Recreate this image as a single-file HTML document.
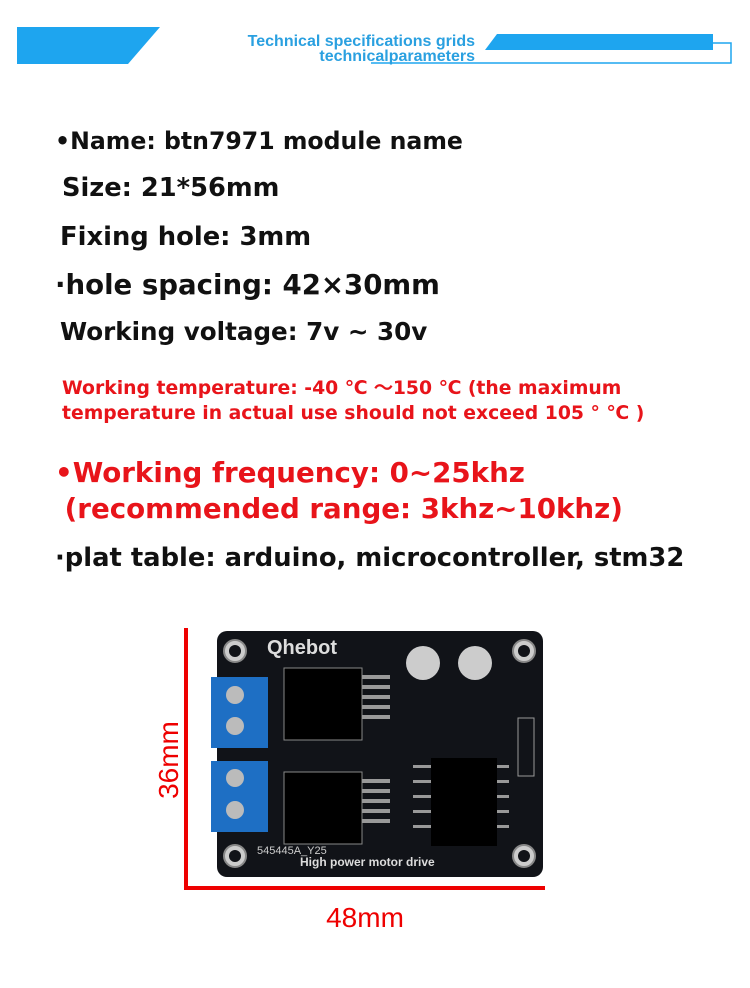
<!DOCTYPE html>
<html><head><meta charset="utf-8"><style>
body{margin:0;width:750px;height:988px;background:#fff;position:relative;overflow:hidden;font-family:"DejaVu Sans","Liberation Sans",sans-serif}
.t{position:absolute;white-space:nowrap;font-weight:bold;color:#111}
.a{position:absolute}
</style></head><body>
<svg class="a" style="left:0;top:0" width="750" height="80">
<polygon points="17,27 160,27 128,64 17,64" fill="#1ea5ef"/>
<polygon points="497,34 713,34 713,50 485,50" fill="#1ea5ef"/>
<polyline points="371,63 731,63 731,43 713,43" fill="none" stroke="#1ea5ef" stroke-width="1.5"/>
<text x="475" y="46" text-anchor="end" font-family="Liberation Sans" font-weight="bold" font-size="16" fill="#2aa0e0">Technical specifications grids</text>
<text x="475" y="61" text-anchor="end" font-family="Liberation Sans" font-weight="bold" font-size="16" fill="#2aa0e0">technicalparameters</text>
</svg>
<div class="t" style="left:55px;top:127px;font-size:23.6px">•Name: btn7971 module name</div>
<div class="t" style="left:62px;top:173px;font-size:25.7px">Size: 21*56mm</div>
<div class="t" style="left:60px;top:222px;font-size:25.8px">Fixing hole: 3mm</div>
<div class="t" style="left:55px;top:268px;font-size:27.6px">·hole spacing: 42×30mm</div>
<div class="t" style="left:60px;top:317px;font-size:24.6px">Working voltage: 7v ~ 30v</div>
<div class="t" style="left:62px;top:376px;font-size:18.8px;color:#e8141a;line-height:25px">Working temperature: -40 ℃ ～150 ℃ (the maximum<br>temperature in actual use should not exceed 105 ° ℃ )</div>
<div class="t" style="left:55px;top:455px;font-size:27.7px;color:#e8141a;line-height:36px">•Working frequency: 0~25khz<br>&nbsp;(recommended range: 3khz~10khz)</div>
<div class="t" style="left:55px;top:543px;font-size:25.8px">·plat table: arduino, microcontroller, stm32</div>
<svg class="a" style="left:0;top:600px" width="750" height="388">
<line x1="186" y1="28" x2="186" y2="290" stroke="#e00" stroke-width="4"/>
<line x1="184" y1="288" x2="545" y2="288" stroke="#e00" stroke-width="4"/>
<text x="178" y="160" transform="rotate(-90 178 160)" text-anchor="middle" font-family="Liberation Sans" font-size="28" fill="#e00">36mm</text>
<text x="365" y="327" text-anchor="middle" font-family="Liberation Sans" font-size="28" fill="#e00">48mm</text>
<rect x="217" y="31" width="326" height="246" rx="10" fill="#111318"/>
<g fill="#ccc" stroke="#888" stroke-width="2"><circle cx="235" cy="51" r="11"/><circle cx="524" cy="51" r="11"/><circle cx="235" cy="256" r="11"/><circle cx="524" cy="256" r="11"/></g>
<g fill="#111318"><circle cx="235" cy="51" r="6"/><circle cx="524" cy="51" r="6"/><circle cx="235" cy="256" r="6"/><circle cx="524" cy="256" r="6"/></g>
<text x="267" y="54" font-family="Liberation Sans" font-weight="bold" font-size="20" fill="#ddd">Qhebot</text>
<rect x="211" y="77" width="57" height="71" fill="#1e6fc4"/>
<rect x="211" y="161" width="57" height="71" fill="#1e6fc4"/>
<g fill="#bbb"><circle cx="235" cy="95" r="9"/><circle cx="235" cy="126" r="9"/><circle cx="235" cy="178" r="9"/><circle cx="235" cy="210" r="9"/></g>
<rect x="284" y="68" width="78" height="72" fill="#000" stroke="#888"/>
<rect x="284" y="172" width="78" height="72" fill="#000" stroke="#888"/>
<g fill="#999"><rect x="362" y="75" width="28" height="4"/><rect x="362" y="85" width="28" height="4"/><rect x="362" y="95" width="28" height="4"/><rect x="362" y="105" width="28" height="4"/><rect x="362" y="115" width="28" height="4"/><rect x="362" y="179" width="28" height="4"/><rect x="362" y="189" width="28" height="4"/><rect x="362" y="199" width="28" height="4"/><rect x="362" y="209" width="28" height="4"/><rect x="362" y="219" width="28" height="4"/></g>
<circle cx="423" cy="63" r="17" fill="#ccc"/><circle cx="475" cy="63" r="17" fill="#ccc"/>
<rect x="431" y="158" width="66" height="88" fill="#000"/>
<g fill="#999"><rect x="413" y="165" width="18" height="3"/><rect x="413" y="180" width="18" height="3"/><rect x="413" y="195" width="18" height="3"/><rect x="413" y="210" width="18" height="3"/><rect x="413" y="225" width="18" height="3"/><rect x="497" y="165" width="12" height="3"/><rect x="497" y="180" width="12" height="3"/><rect x="497" y="195" width="12" height="3"/><rect x="497" y="210" width="12" height="3"/><rect x="497" y="225" width="12" height="3"/></g>
<rect x="518" y="118" width="16" height="58" fill="none" stroke="#999"/>
<text x="300" y="266" font-family="Liberation Sans" font-weight="bold" font-size="12" fill="#ddd">High power motor drive</text>
<text x="257" y="254" font-family="Liberation Sans" font-size="11" fill="#ccc">545445A_Y25</text>
</svg>
</body></html>
